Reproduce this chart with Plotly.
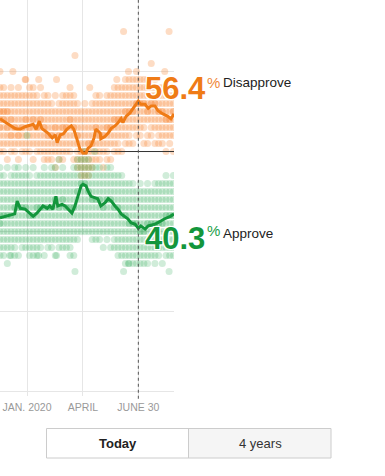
import plotly.graph_objects as go

# ---------------- data ----------------
disapprove_dates = ["2019-11-18","2019-11-26","2019-12-04","2019-12-12","2019-12-17","2019-12-21",
    "2019-12-29","2020-01-06","2020-01-11","2020-01-16","2020-01-21","2020-01-25","2020-01-30",
    "2020-02-04","2020-02-11","2020-02-16","2020-02-19","2020-02-24","2020-02-29","2020-03-06",
    "2020-03-13","2020-03-17","2020-03-22","2020-03-27","2020-04-01","2020-04-06","2020-04-09",
    "2020-04-14","2020-04-19","2020-04-22","2020-04-29","2020-04-30","2020-05-07","2020-05-12",
    "2020-05-17","2020-05-23","2020-05-28","2020-06-02","2020-06-05","2020-06-10","2020-06-16",
    "2020-06-21","2020-06-26","2020-06-30","2020-07-04","2020-07-11","2020-07-16","2020-07-21",
    "2020-07-27","2020-08-01","2020-08-09","2020-08-17","2020-08-22","2020-08-27"]
disapprove_line = [54.1,53.7,53.3,52.9,52.8,52.8,53.1,53.3,53.4,52.8,53.8,52.9,52.6,
    52.3,51.7,52.1,51.1,52.1,52.2,52.8,53.2,52.8,51.6,50.3,49.8,49.8,50.4,
    50.7,51.7,52.8,52.3,51.6,51.9,52.3,52.9,53.2,53.6,54.1,53.6,54.4,54.8,
    55.3,55.9,56.3,55.9,55.9,55.4,55.7,55.7,55.1,54.7,54.4,54.1,54.7]

approve_dates = ["2019-11-18","2019-11-23","2019-11-29","2019-12-08","2019-12-12","2019-12-16",
    "2019-12-21","2019-12-29","2020-01-06","2020-01-11","2020-01-17","2020-01-22","2020-01-27",
    "2020-02-03","2020-02-07","2020-02-12","2020-02-17","2020-02-20","2020-02-27","2020-03-03",
    "2020-03-08","2020-03-14","2020-03-19","2020-03-24","2020-03-29","2020-04-01","2020-04-06",
    "2020-04-09","2020-04-14","2020-04-21","2020-04-25","2020-04-30","2020-05-07","2020-05-12",
    "2020-05-17","2020-05-23","2020-05-28","2020-06-02","2020-06-08","2020-06-13","2020-06-18",
    "2020-06-25","2020-06-30","2020-07-04","2020-07-11","2020-07-16","2020-07-27","2020-08-04",
    "2020-08-12","2020-08-21","2020-08-27"]
approve_line = [41.7,41.8,41.9,42.1,42.2,43.8,42.9,42.8,42.3,41.9,42.3,42.8,43.2,
    42.9,43.2,42.8,44.4,43.2,43.4,43.2,42.8,42.3,43.2,44.4,45.7,45.9,45.7,
    45.1,44.4,44.2,44.1,43.2,43.6,44.1,43.8,43.2,42.8,42.2,41.9,41.6,41.1,
    40.9,40.4,40.7,40.3,40.7,40.9,41.3,41.6,41.9,42.2]

poll_dates = ["2019-11-18","2019-11-24","2019-11-30","2019-12-06","2019-12-12","2019-12-18",
    "2019-12-24","2019-12-30","2020-01-05","2020-01-11","2020-01-17","2020-01-23","2020-01-29",
    "2020-02-04","2020-02-10","2020-02-16","2020-02-22","2020-02-28","2020-03-05","2020-03-11",
    "2020-03-17","2020-03-23","2020-03-29","2020-04-04","2020-04-10","2020-04-16","2020-04-22",
    "2020-04-28","2020-05-04","2020-05-10","2020-05-16","2020-05-22","2020-05-28","2020-06-03",
    "2020-06-09","2020-06-15","2020-06-21","2020-06-27","2020-07-03","2020-07-09","2020-07-15",
    "2020-07-21","2020-07-27","2020-08-02","2020-08-08","2020-08-14","2020-08-20","2020-08-26"]

disapprove_polls = [
    [50,51,52,53,53,54,54,55,55,56,57,58],[50,51,52,53,54,54,55,55,56,57,58],
    [49,51,52,53,53,54,55,55,56,57],[50,51,52,52,53,54,54,55,56,57,58],
    [50,51,52,53,53,54,55,56,57],[49,51,52,52,53,54,55,56,57,58],
    [50,51,52,53,53,54,55,56,57],[50,51,52,53,54,54,55,56,57,59],
    [50,51,52,53,53,54,55,56,57,58],[49,51,52,53,54,54,55,56,57,58],
    [50,51,52,53,53,54,55,56,57],[50,51,52,53,54,54,55,56,58],
    [49,50,51,52,53,53,54,55,56,57],[49,50,51,52,52,53,54,55,56,57],
    [49,50,51,52,52,53,54,55,56],[48,50,51,52,53,53,54,55,57],
    [49,50,51,52,52,53,54,55,56],[49,50,51,52,53,53,54,55,56,57],
    [50,51,52,53,53,54,55,56,57],[50,51,52,53,54,54,55,56,57,58],
    [49,51,52,53,53,54,55,56,57],[48,49,50,51,52,52,53,54,55,56],
    [47,48,49,50,50,51,52,53,54,55],[47,48,49,50,50,51,52,53,54,55,56],
    [47,48,49,50,51,51,52,53,54,55],[48,49,50,51,51,52,53,54,55,56],
    [49,50,51,52,53,53,54,55,56,57],[49,50,51,52,52,53,54,55,56,57],
    [48,50,51,52,52,53,54,55,56],[49,50,51,52,53,53,54,55,56,57],
    [49,51,52,53,53,54,55,56,57],[50,51,52,53,54,54,55,56,57,58],
    [50,51,52,53,54,54,55,56,57,58],[50,52,53,54,54,55,56,57,58],
    [51,52,53,54,55,55,56,57,58,59],[51,52,53,54,55,55,56,57,58,59],
    [51,53,54,55,55,56,57,58,59],[52,53,54,55,56,56,57,58,59,60],
    [52,53,54,55,56,56,57,58,59],[51,53,54,55,56,56,57,58,59],
    [51,52,54,55,55,56,57,58,59],[52,53,54,55,56,56,57,58],
    [51,53,54,55,56,56,57,58,59],[51,52,53,54,55,55,56,57,58],
    [51,52,53,54,55,55,56,57,58],[50,52,53,54,54,55,56,57,58],
    [51,52,53,54,54,55,56,57],[50,52,53,54,55,55,56,57,58]]

approve_polls = [
    [37,38,39,40,41,41,42,42,43,44,45,46,47,48],[37,38,39,40,41,42,42,43,44,45,46,47],
    [36,38,39,40,41,42,42,43,44,45,46,48],[37,38,39,40,41,42,42,43,44,45,46,47],
    [37,38,39,40,41,42,43,43,44,45,46,47,48],[37,39,40,41,42,43,43,44,45,46,47,48],
    [38,39,40,41,42,43,43,44,45,46,47],[38,39,40,41,42,43,43,44,45,46,47,48],
    [37,38,39,40,41,42,42,43,44,45,46,47],[37,38,39,40,41,42,42,43,44,45,46,48],
    [37,38,39,40,41,42,43,43,44,45,46,47],[38,39,40,41,42,43,43,44,45,46,47],
    [37,39,40,41,42,43,43,44,45,46,47,48],[38,39,40,41,42,43,43,44,45,46,47],
    [38,39,40,41,42,43,43,44,45,46,47,48],[37,39,40,41,42,43,44,44,45,46,47,48],
    [38,39,40,41,42,43,43,44,45,46,47,49],[38,39,40,41,42,43,44,44,45,46,47,48],
    [38,39,40,41,42,43,43,44,45,46,47],[37,38,39,40,41,42,43,43,44,45,46,47],
    [37,39,40,41,42,43,43,44,45,46,47,48],[39,40,41,42,43,44,45,45,46,47,48,49],
    [40,41,42,43,44,45,46,46,47,48,49],[40,41,42,43,44,45,46,46,47,48,49,50],
    [40,41,42,43,44,45,45,46,47,48,49],[39,40,41,42,43,44,44,45,46,47,48],
    [39,40,41,42,43,44,44,45,46,47,48],[39,40,41,42,43,44,44,45,46,47,48],
    [38,40,41,42,43,43,44,45,46,47],[39,40,41,42,43,44,44,45,46,47,48],
    [38,40,41,42,43,44,44,45,46,47,48],[38,39,40,41,42,43,43,44,45,46,47],
    [37,38,39,40,41,42,43,43,44,45,46,47],[37,38,39,40,41,42,42,43,44,45,46,47],
    [36,37,38,39,40,41,42,42,43,44,45,46],[36,37,38,39,40,41,41,42,43,44,45,46],
    [36,37,38,39,40,41,41,42,43,44,45,46],[36,37,38,39,40,41,41,42,43,44,45],
    [36,37,38,39,40,40,41,42,43,44,45,46],[36,37,38,39,40,40,41,42,43,44,45],
    [36,37,38,39,40,41,41,42,43,44,45,46],[37,38,39,40,41,41,42,43,44,45],
    [36,37,38,39,40,41,41,42,43,44,45,46],[37,38,39,40,41,41,42,43,44,45,46],
    [36,38,39,40,41,41,42,43,44,45,46],[37,38,39,40,41,42,42,43,44,45,46,47],
    [37,38,39,40,41,42,42,43,44,45,46],[37,38,39,40,41,42,42,43,44,45,46,47]]

disapprove_outlier_dates = ["2019-11-18","2019-12-09","2019-12-29","2020-01-20","2020-02-18",
    "2020-03-19","2020-04-12","2020-05-26","2020-06-06","2020-06-14","2020-07-21","2020-08-12","2020-08-19"]
disapprove_outlier_vals = [60,60,59,59,59,62,58,59,65,60,61,60,65]
approve_outlier_dates = ["2019-12-04","2020-01-20","2020-02-18","2020-03-19","2020-06-06",
    "2020-06-14","2020-08-19","2020-01-01","2020-04-20"]
approve_outlier_vals = [37,37,37,35,35,36,35,52,50]

tick_dates = ["2020-01-01", "2020-04-01", "2020-06-30"]
tick_labels = ["JAN. 2020", "APRIL", "JUNE 30"]
x_range = ["2019-11-18 02:00", "2020-08-27 00:00"]
y_range = [19.44, 68.94]
grid_values = [20, 30, 40, 60]
current_date = "2020-06-30"
approve_now = 40.3
disapprove_now = 56.4

ORANGE = "#ef7b16"
GREEN = "#13963c"

W, H = 385, 476
PLOT_W, PLOT_H = 174, 396


def px(x):
    return x / PLOT_W


def py(y):
    return (PLOT_H - y) / PLOT_H


def flatten(dates, groups):
    xs, ys = [], []
    for d, g in zip(dates, groups):
        for v in g:
            xs.append(d)
            ys.append(v)
    return xs, ys


fig = go.Figure()

dx, dy = flatten(poll_dates, disapprove_polls)
ax, ay = flatten(poll_dates, approve_polls)

fig.add_trace(go.Scatter(x=dx + disapprove_outlier_dates, y=dy + disapprove_outlier_vals,
                         mode="markers", marker=dict(size=7, color="rgba(250,140,60,0.3)", line=dict(width=0)),
                         hoverinfo="skip"))
fig.add_trace(go.Scatter(x=ax + approve_outlier_dates, y=ay + approve_outlier_vals,
                         mode="markers", marker=dict(size=7, color="rgba(40,170,80,0.22)", line=dict(width=0)),
                         hoverinfo="skip"))
# 50% reference line
fig.add_trace(go.Scatter(x=x_range, y=[50, 50], mode="lines",
                         line=dict(color="#333333", width=1), hoverinfo="skip"))
fig.add_trace(go.Scatter(x=disapprove_dates, y=disapprove_line, mode="lines",
                         line=dict(color=ORANGE, width=3), hoverinfo="skip"))
fig.add_trace(go.Scatter(x=approve_dates, y=approve_line, mode="lines",
                         line=dict(color=GREEN, width=3), hoverinfo="skip"))

shapes = [
    dict(type="line", xref="x", yref="paper", x0=current_date, x1=current_date, y0=-0.007, y1=1,
         line=dict(color="#555555", width=1, dash="dot"), layer="above"),
    # toggle buttons
    dict(type="rect", xref="paper", yref="paper", x0=px(188), x1=px(331), y0=py(458), y1=py(428),
         fillcolor="#f5f5f5", line=dict(width=0), layer="above"),
    dict(type="rect", xref="paper", yref="paper", x0=px(46.5), x1=px(331), y0=py(458), y1=py(428.5),
         fillcolor="rgba(0,0,0,0)", line=dict(color="#cccccc", width=1), layer="above"),
    dict(type="line", xref="paper", yref="paper", x0=px(188.5), x1=px(188.5), y0=py(458), y1=py(428.5),
         line=dict(color="#cccccc", width=1), layer="above"),
]

halo = "1px 1px 0 #fff, -1px -1px 0 #fff, 1px -1px 0 #fff, -1px 1px 0 #fff, 0 0 3px #fff"
annotations = [
    dict(text=f"{disapprove_now}", x=px(143), y=py(89), xanchor="left", yanchor="middle",
         font=dict(family="Liberation Sans, Arial", size=31, color=ORANGE, weight="bold", shadow=halo)),
    dict(text="%", x=px(205), y=py(82), xanchor="left", yanchor="middle",
         font=dict(family="Liberation Sans, Arial", size=15, color="#f08a3a")),
    dict(text="Disapprove", x=px(221), y=py(83), xanchor="left", yanchor="middle",
         font=dict(family="Liberation Sans, Arial", size=13.5, color="#222222")),
    dict(text=f"{approve_now}", x=px(143), y=py(238), xanchor="left", yanchor="middle",
         font=dict(family="Liberation Sans, Arial", size=31, color=GREEN, weight="bold", shadow=halo)),
    dict(text="%", x=px(205), y=py(231), xanchor="left", yanchor="middle",
         font=dict(family="Liberation Sans, Arial", size=15, color="#22a04a")),
    dict(text="Approve", x=px(221), y=py(233), xanchor="left", yanchor="middle",
         font=dict(family="Liberation Sans, Arial", size=13.5, color="#222222")),
    dict(text="<b>Today</b>", x=px(118), y=py(443), xanchor="center", yanchor="middle",
         font=dict(family="Liberation Sans, Arial", size=13, color="#222222")),
    dict(text="4 years", x=px(260), y=py(443), xanchor="center", yanchor="middle",
         font=dict(family="Liberation Sans, Arial", size=13, color="#333333")),
]
for a in annotations:
    a.update(xref="paper", yref="paper", showarrow=False)

fig.update_layout(
    width=W, height=H,
    margin=dict(l=0, r=W - PLOT_W, t=0, b=H - PLOT_H),
    paper_bgcolor="white", plot_bgcolor="white",
    showlegend=False,
    shapes=shapes, annotations=annotations,
    xaxis=dict(type="date", range=x_range, tickvals=tick_dates, ticktext=tick_labels,
               showgrid=True, gridcolor="#e6e6e6", gridwidth=1, zeroline=False,
               showline=False, ticks="", ticklabelstandoff=3,
               tickfont=dict(family="Liberation Sans, Arial", size=10.5, color="#999999"),
               fixedrange=True),
    yaxis=dict(range=y_range, tickvals=grid_values, showticklabels=False, showgrid=True,
               gridcolor="#e6e6e6", gridwidth=1, zeroline=False, showline=False, ticks="", fixedrange=True),
)

fig.write_html("out.html", config={"displayModeBar": False},
               post_script="document.body.style.margin='0px';document.body.style.padding='0px';")
